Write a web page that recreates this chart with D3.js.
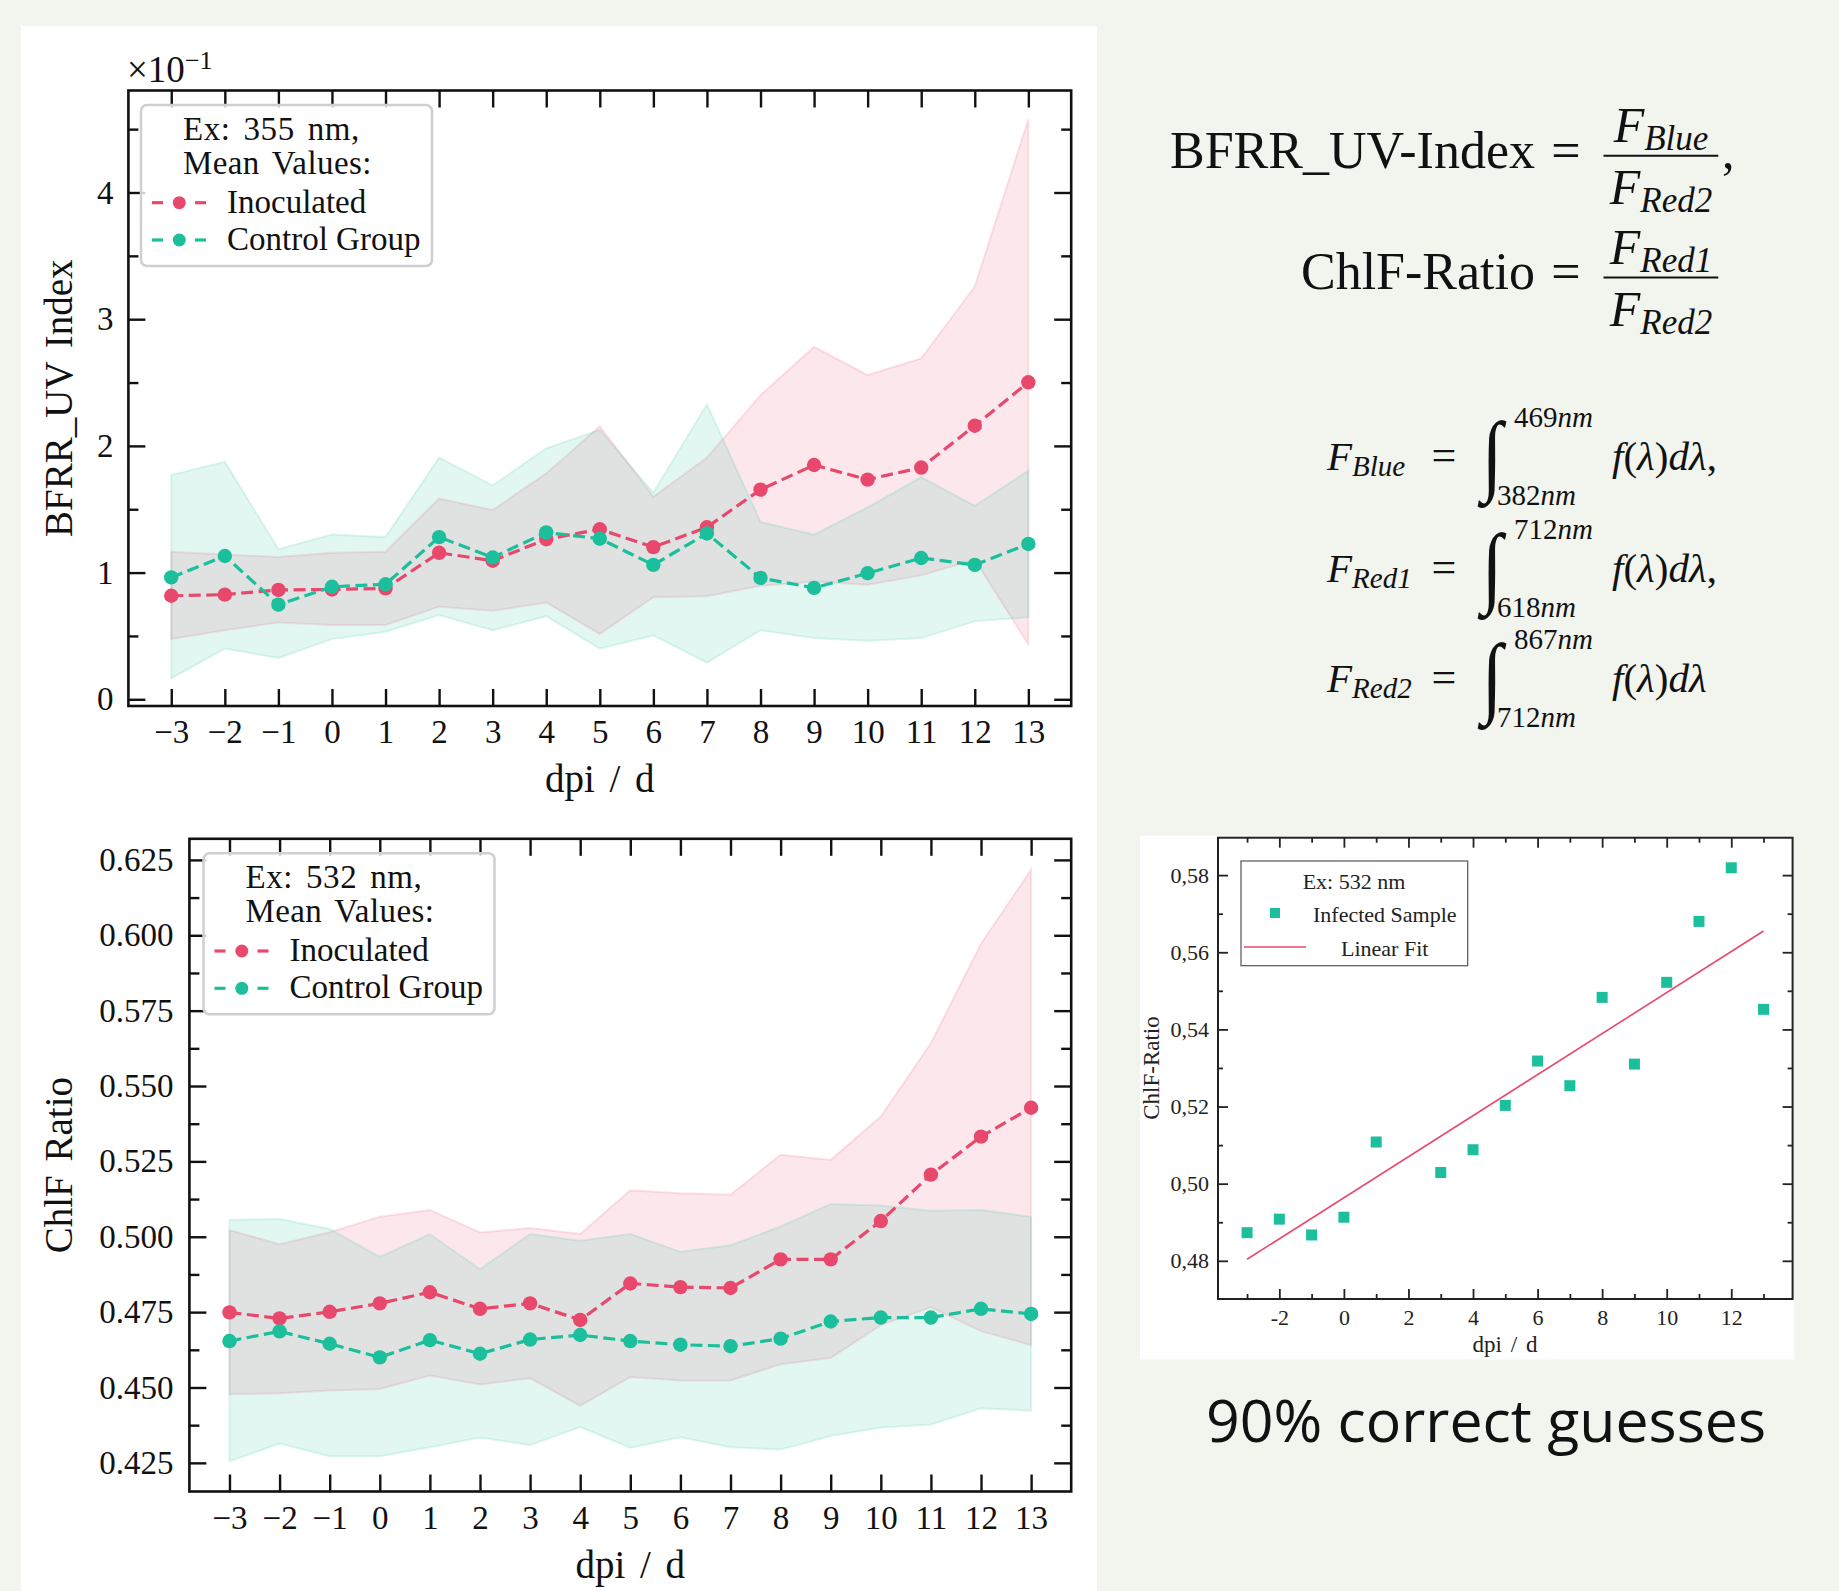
<!DOCTYPE html>
<html><head><meta charset="utf-8">
<script src="https://cdn.jsdelivr.net/npm/d3@7"></script>
<style>
html,body{margin:0;padding:0;background:#f2f4ee;}
svg{display:block;}
</style></head><body>
<svg id="fig" width="1839" height="1591"></svg>
<script>
// ---------------- DATA ----------------
const dpi = [-3,-2,-1,0,1,2,3,4,5,6,7,8,9,10,11,12,13];
const dpiTickLabels = ["\u22123","\u22122","\u22121","0","1","2","3","4","5","6","7","8","9","10","11","12","13"];

// BFRR_UV index (true values; axis shows ×10^-1)
const uvInocMean  = [0.0817,0.0826,0.0863,0.0867,0.0875,0.1156,0.1094,0.1263,0.1342,0.1201,0.1358,0.1655,0.1849,0.1734,0.1829,0.2159,0.2502];
const uvInocUpper = [0.1164,0.1143,0.1123,0.1156,0.1164,0.1585,0.1494,0.1783,0.2155,0.1598,0.1907,0.2400,0.2782,0.2559,0.2691,0.3257,0.4578];
const uvInocLower = [0.0475,0.0545,0.0607,0.0586,0.0586,0.0731,0.0698,0.0764,0.0516,0.0805,0.0813,0.0896,0.0929,0.0904,0.0978,0.1102,0.0433];
const uvCtrlMean  = [0.0962,0.1131,0.0747,0.0888,0.0908,0.1280,0.1119,0.1317,0.1267,0.1061,0.1309,0.0958,0.0879,0.0995,0.1115,0.1061,0.1226];
const uvCtrlUpper = [0.1771,0.1874,0.1185,0.1300,0.1280,0.1907,0.1688,0.1981,0.2126,0.1631,0.2328,0.1399,0.1300,0.1515,0.1754,0.1527,0.1804];
const uvCtrlLower = [0.0165,0.0400,0.0326,0.0475,0.0533,0.0665,0.0545,0.0656,0.0400,0.0504,0.0289,0.0545,0.0483,0.0462,0.0483,0.0615,0.0648];
const uvTicks = [0,0.1,0.2,0.3,0.4];
const uvTickLabels = ["0","1","2","3","4"];
const uvMinor = [0.05,0.15,0.25,0.35,0.45];

// ChlF ratio
const chlInocMean  = [0.4749,0.4729,0.4751,0.4779,0.4816,0.4761,0.4779,0.4724,0.4845,0.4833,0.4830,0.4925,0.4925,0.5052,0.5206,0.5332,0.5428];
const chlInocUpper = [0.5022,0.4975,0.5015,0.5066,0.5089,0.5014,0.5029,0.5009,0.5154,0.5144,0.5139,0.5272,0.5255,0.5399,0.5642,0.5972,0.6218];
const chlInocLower = [0.4478,0.4481,0.4490,0.4495,0.4540,0.4510,0.4531,0.4439,0.4535,0.4523,0.4523,0.4577,0.4598,0.4707,0.4766,0.4687,0.4640];
const chlCtrlMean  = [0.4654,0.4686,0.4645,0.4600,0.4657,0.4612,0.4659,0.4674,0.4654,0.4642,0.4637,0.4662,0.4719,0.4732,0.4732,0.4761,0.4744];
const chlCtrlUpper = [0.5056,0.5059,0.5026,0.4933,0.5009,0.4892,0.5009,0.4987,0.5009,0.4950,0.4972,0.5034,0.5109,0.5104,0.5086,0.5089,0.5066];
const chlCtrlLower = [0.4255,0.4314,0.4272,0.4272,0.4302,0.4334,0.4309,0.4369,0.4300,0.4335,0.4302,0.4294,0.4339,0.4367,0.4377,0.4431,0.4423];
const chlTicks = [0.425,0.45,0.475,0.5,0.525,0.55,0.575,0.6,0.625];
const chlTickLabels = ["0.425","0.450","0.475","0.500","0.525","0.550","0.575","0.600","0.625"];
const chlMinor = [0.4375,0.4625,0.4875,0.5125,0.5375,0.5625,0.5875,0.6125];

// Inset: infected sample, Ex 532 nm
const insetDays  = [-3,-2,-1,0,1,3,4,5,6,7,8,9,10,11,12,13];
const insetRatio = [0.4873,0.4908,0.4867,0.4913,0.5108,0.5029,0.5088,0.5203,0.5318,0.5254,0.5483,0.5310,0.5522,0.5680,0.5819,0.5452];
const fitDays  = [-3, 13];
const fitRatio = [0.4804, 0.5655];
const insetXTicks = [-2,0,2,4,6,8,10,12];
const insetXTickLabels = ["-2","0","2","4","6","8","10","12"];
const insetXMinor = [-3,-1,1,3,5,7,9,11,13];
const insetYTicks = [0.48,0.50,0.52,0.54,0.56,0.58];
const insetYTickLabels = ["0,48","0,50","0,52","0,54","0,56","0,58"];
const insetYMinor = [0.49,0.51,0.53,0.55,0.57];

// ---------------- DRAWING ----------------
const svg = d3.select("#fig");
const SERIF = "'Liberation Serif','Times New Roman',serif";
const RED = "#e8486b", TEAL = "#1cbf9b";
const BLACK = "#111";

svg.append("rect").attr("width",1839).attr("height",1591).attr("fill","#f2f4ee");
svg.append("rect").attr("x",21).attr("y",26).attr("width",1076).attr("height",1565).attr("fill","#ffffff");

function styleAxis(sel, fs){
  sel.attr("font-family",SERIF).attr("font-size",fs);
  sel.select(".domain").remove();
  sel.selectAll(".tick line").attr("stroke",BLACK).attr("stroke-width",2.4);
  sel.selectAll(".tick text").attr("fill",BLACK);
}

function drawPanel(p){
  const g = svg.append("g");
  const x = d3.scaleLinear().domain([-3.8,13.8]).range([p.left,p.right]);
  const y = d3.scaleLinear().domain(p.yDomain).range([p.bottom,p.top]);

  const area = d3.area().x(d=>x(d[0])).y0(d=>y(d[1])).y1(d=>y(d[2]));
  const line = d3.line().x(d=>x(d[0])).y(d=>y(d[1]));
  p.series.forEach(s=>{
    g.append("path").datum(d3.zip(dpi,s.lower,s.upper)).attr("d",area)
      .attr("fill",s.color).attr("fill-opacity",0.13)
      .attr("stroke",s.color).attr("stroke-opacity",0.14).attr("stroke-width",2);
  });
  p.series.forEach(s=>{
    g.append("path").datum(d3.zip(dpi,s.mean)).attr("d",line)
      .attr("fill","none").attr("stroke",s.color).attr("stroke-width",3.2)
      .attr("stroke-dasharray","12,5.5");
    g.selectAll(null).data(d3.zip(dpi,s.mean)).join("circle")
      .attr("cx",d=>x(d[0])).attr("cy",d=>y(d[1])).attr("r",7.2).attr("fill",s.color);
  });

  // axes
  g.append("g").attr("transform",`translate(0,${p.bottom})`)
    .call(d3.axisBottom(x).tickValues(dpi).tickFormat(d=>dpiTickLabels[dpi.indexOf(d)])
      .tickSizeInner(-17).tickSizeOuter(0).tickPadding(14)).call(styleAxis,33);
  g.append("g").attr("transform",`translate(0,${p.top})`)
    .call(d3.axisTop(x).tickValues(dpi).tickFormat("").tickSizeInner(-17).tickSizeOuter(0)).call(styleAxis,33);
  g.append("g").attr("transform",`translate(${p.left},0)`)
    .call(d3.axisLeft(y).tickValues(p.yTicks).tickFormat(d=>p.yLabels[p.yTicks.indexOf(d)])
      .tickSizeInner(-17).tickSizeOuter(0).tickPadding(p.yPad)).call(styleAxis,33);
  g.append("g").attr("transform",`translate(${p.left},0)`)
    .call(d3.axisLeft(y).tickValues(p.yMinor).tickFormat("").tickSizeInner(-10).tickSizeOuter(0)).call(styleAxis,33);
  g.append("g").attr("transform",`translate(${p.right},0)`)
    .call(d3.axisRight(y).tickValues(p.yTicks).tickFormat("").tickSizeInner(-17).tickSizeOuter(0)).call(styleAxis,33);
  g.append("g").attr("transform",`translate(${p.right},0)`)
    .call(d3.axisRight(y).tickValues(p.yMinor).tickFormat("").tickSizeInner(-10).tickSizeOuter(0)).call(styleAxis,33);

  g.append("rect").attr("x",p.left).attr("y",p.top).attr("width",p.right-p.left).attr("height",p.bottom-p.top)
    .attr("fill","none").attr("stroke",BLACK).attr("stroke-width",2.6);

  // axis labels
  g.append("text").attr("x",(p.left+p.right)/2).attr("y",p.bottom+86).attr("text-anchor","middle")
    .attr("font-family",SERIF).attr("font-size",39).attr("word-spacing",5).attr("fill",BLACK).text("dpi / d");
  g.append("text").attr("transform",`translate(72,${(p.top+p.bottom)/2}) rotate(-90)`).attr("text-anchor","middle")
    .attr("font-family",SERIF).attr("font-size",39).attr("word-spacing",4).attr("fill",BLACK).text(p.ylabel);

  // legend
  const lx = p.legX, ly = p.top+14.5;
  const lg = g.append("g").attr("font-family",SERIF).attr("font-size",33).attr("fill",BLACK);
  lg.append("rect").attr("x",lx).attr("y",ly).attr("width",291).attr("height",161).attr("rx",6)
    .attr("fill","#fff").attr("fill-opacity",0.8).attr("stroke","#cfcfcf").attr("stroke-width",2.5);
  lg.append("text").attr("x",lx+42).attr("y",ly+35).attr("word-spacing",4).attr("letter-spacing",0.6).text(p.legTitle1);
  lg.append("text").attr("x",lx+42).attr("y",ly+68.5).attr("word-spacing",4).attr("letter-spacing",0.4).text(p.legTitle2);
  p.series.forEach((s,k)=>{
    const by = ly+107.7+k*37.3;
    const cy = by-10;
    lg.append("line").attr("x1",lx+11).attr("x2",lx+22).attr("y1",cy).attr("y2",cy).attr("stroke",s.color).attr("stroke-width",3.2);
    lg.append("line").attr("x1",lx+54).attr("x2",lx+65).attr("y1",cy).attr("y2",cy).attr("stroke",s.color).attr("stroke-width",3.2);
    lg.append("circle").attr("cx",lx+38.3).attr("cy",cy).attr("r",6.5).attr("fill",s.color);
    lg.append("text").attr("x",lx+86).attr("y",by).text(s.name);
  });
  return {x,y,g};
}

const topPanel = drawPanel({
  left:128.4,right:1071.2,top:90.5,bottom:706,
  yDomain:[-0.0053,0.4805], yTicks:uvTicks, yLabels:uvTickLabels, yMinor:uvMinor, yPad:15,
  ylabel:"BFRR_UV Index", legX:141, legTitle1:"Ex: 355 nm,", legTitle2:"Mean Values:",
  series:[
    {name:"Inoculated",color:RED,mean:uvInocMean,lower:uvInocLower,upper:uvInocUpper},
    {name:"Control Group",color:TEAL,mean:uvCtrlMean,lower:uvCtrlLower,upper:uvCtrlUpper}
  ]
});
// offset text ×10^-1
svg.append("text").attr("x",127).attr("y",82).attr("font-family",SERIF).attr("font-size",37).attr("fill",BLACK)
  .text("\u00d710").append("tspan").attr("font-size",26).attr("dy",-13).text("\u22121");

const bottomPanel = drawPanel({
  left:189.4,right:1071.2,top:838.8,bottom:1491.5,
  yDomain:[0.4155,0.632], yTicks:chlTicks, yLabels:chlTickLabels, yMinor:chlMinor, yPad:16,
  ylabel:"ChlF Ratio", legX:203.5, legTitle1:"Ex: 532 nm,", legTitle2:"Mean Values:",
  series:[
    {name:"Inoculated",color:RED,mean:chlInocMean,lower:chlInocLower,upper:chlInocUpper},
    {name:"Control Group",color:TEAL,mean:chlCtrlMean,lower:chlCtrlLower,upper:chlCtrlUpper}
  ]
});

// ---------------- INSET ----------------
(function(){
  const L=1218,R=1792.6,T=837.7,B=1299;
  svg.append("rect").attr("x",1140).attr("y",835.6).attr("width",654).attr("height",524).attr("fill","#fff");
  const g = svg.append("g");
  const x = d3.scaleLinear().domain([-3.9,13.9]).range([L,R]);
  const y = d3.scaleLinear().domain([0.4701,0.5897]).range([B,T]);
  const fs = 22;
  const sty = (sel)=>{ sel.attr("font-family",SERIF).attr("font-size",fs); sel.select(".domain").remove();
    sel.selectAll(".tick line").attr("stroke","#222").attr("stroke-width",1.8); sel.selectAll(".tick text").attr("fill","#222"); };
  g.append("g").attr("transform",`translate(0,${B})`).call(d3.axisBottom(x).tickValues(insetXTicks)
    .tickFormat(d=>insetXTickLabels[insetXTicks.indexOf(d)]).tickSizeInner(-10).tickSizeOuter(0).tickPadding(10)).call(sty);
  g.append("g").attr("transform",`translate(0,${B})`).call(d3.axisBottom(x).tickValues(insetXMinor).tickFormat("").tickSizeInner(-5).tickSizeOuter(0)).call(sty);
  g.append("g").attr("transform",`translate(0,${T})`).call(d3.axisTop(x).tickValues(insetXTicks).tickFormat("").tickSizeInner(-10).tickSizeOuter(0)).call(sty);
  g.append("g").attr("transform",`translate(0,${T})`).call(d3.axisTop(x).tickValues(insetXMinor).tickFormat("").tickSizeInner(-5).tickSizeOuter(0)).call(sty);
  g.append("g").attr("transform",`translate(${L},0)`).call(d3.axisLeft(y).tickValues(insetYTicks)
    .tickFormat(d=>insetYTickLabels[insetYTicks.indexOf(d)]).tickSizeInner(-10).tickSizeOuter(0).tickPadding(9)).call(sty);
  g.append("g").attr("transform",`translate(${L},0)`).call(d3.axisLeft(y).tickValues(insetYMinor).tickFormat("").tickSizeInner(-5).tickSizeOuter(0)).call(sty);
  g.append("g").attr("transform",`translate(${R},0)`).call(d3.axisRight(y).tickValues(insetYTicks).tickFormat("").tickSizeInner(-10).tickSizeOuter(0)).call(sty);
  g.append("g").attr("transform",`translate(${R},0)`).call(d3.axisRight(y).tickValues(insetYMinor).tickFormat("").tickSizeInner(-5).tickSizeOuter(0)).call(sty);
  g.append("rect").attr("x",L).attr("y",T).attr("width",R-L).attr("height",B-T).attr("fill","none").attr("stroke","#222").attr("stroke-width",2);

  g.append("path").datum(d3.zip(fitDays,fitRatio)).attr("d",d3.line().x(d=>x(d[0])).y(d=>y(d[1])))
    .attr("stroke",RED).attr("stroke-width",1.6).attr("fill","none");
  g.selectAll(null).data(d3.zip(insetDays,insetRatio)).join("rect")
    .attr("x",d=>x(d[0])-5.5).attr("y",d=>y(d[1])-5.5).attr("width",11).attr("height",11).attr("fill",TEAL);

  // legend
  const lg = g.append("g").attr("font-family",SERIF).attr("font-size",fs).attr("fill","#222");
  lg.append("rect").attr("x",1241).attr("y",861).attr("width",226.7).attr("height",104.7).attr("fill","#fff").attr("stroke","#555").attr("stroke-width",1.2);
  lg.append("text").attr("x",1354).attr("y",889).attr("text-anchor","middle").text("Ex: 532 nm");
  lg.append("rect").attr("x",1270).attr("y",908).attr("width",10).attr("height",10).attr("fill",TEAL);
  lg.append("text").attr("x",1313).attr("y",922).text("Infected Sample");
  lg.append("line").attr("x1",1244).attr("x2",1306).attr("y1",947).attr("y2",947).attr("stroke",RED).attr("stroke-width",1.6);
  lg.append("text").attr("x",1341).attr("y",956).text("Linear Fit");

  g.append("text").attr("transform","translate(1159,1068) rotate(-90)").attr("text-anchor","middle")
    .attr("font-family",SERIF).attr("font-size",23).attr("fill","#222").text("ChlF-Ratio");
  g.append("text").attr("x",1505).attr("y",1352).attr("text-anchor","middle").attr("word-spacing",3)
    .attr("font-family",SERIF).attr("font-size",23).attr("fill","#222").text("dpi / d");
})();

// ---------------- FORMULAS ----------------
const F = svg.append("g").attr("font-family",SERIF).attr("fill","#111");
function mathText(x,y,anchor,parts){
  const t = F.append("text").attr("x",x).attr("y",y).attr("text-anchor",anchor);
  parts.forEach(p=>{
    const s = t.append("tspan").text(p.t).attr("font-size",p.fs);
    if(p.it) s.attr("font-style","italic");
    if(p.dy) s.attr("dy",p.dy);
  });
  return t;
}
// Row A / B
mathText(1535,168,"end",[{t:"BFRR_UV-Index",fs:52}]);
mathText(1566,168,"middle",[{t:"=",fs:52}]);
F.append("line").attr("x1",1603.5).attr("x2",1718.3).attr("y1",155.7).attr("y2",155.7).attr("stroke","#111").attr("stroke-width",2);
mathText(1661,141.7,"middle",[{t:"F",fs:50,it:1},{t:"Blue",fs:35,it:1,dy:8}]);
mathText(1661,204,"middle",[{t:"F",fs:50,it:1},{t:"Red2",fs:35,it:1,dy:8}]);
mathText(1722,168,"start",[{t:",",fs:50}]);

mathText(1535,289,"end",[{t:"ChlF-Ratio",fs:52}]);
mathText(1566,289,"middle",[{t:"=",fs:52}]);
F.append("line").attr("x1",1603.5).attr("x2",1718.3).attr("y1",277.6).attr("y2",277.6).attr("stroke","#111").attr("stroke-width",2);
mathText(1661,263.7,"middle",[{t:"F",fs:50,it:1},{t:"Red1",fs:35,it:1,dy:8}]);
mathText(1661,326,"middle",[{t:"F",fs:50,it:1},{t:"Red2",fs:35,it:1,dy:8}]);

// Integrals
const intRows = [
  {b:470, sub:"Blue", up:"469", lo:"382", end:","},
  {b:582, sub:"Red1", up:"712", lo:"618", end:","},
  {b:692, sub:"Red2", up:"867", lo:"712", end:""}
];
intRows.forEach(r=>{
  mathText(1327,r.b,"start",[{t:"F",fs:41,it:1},{t:r.sub,fs:29,it:1,dy:6}]);
  mathText(1444,r.b,"middle",[{t:"=",fs:44}]);
  F.append("text").attr("transform",`translate(1492,${r.b+14}) scale(1,1.18)`).attr("text-anchor","middle")
    .attr("font-family",SERIF).attr("font-style","italic").attr("font-size",76).text("\u222b");
  mathText(1514,r.b-43,"start",[{t:r.up,fs:29},{t:"nm",fs:29,it:1}]);
  mathText(1497,r.b+35,"start",[{t:r.lo,fs:29},{t:"nm",fs:29,it:1}]);
  mathText(1612,r.b,"start",[{t:"f",fs:41,it:1},{t:"(",fs:41},{t:"\u03bb",fs:41,it:1},{t:")",fs:41},{t:"d\u03bb",fs:41,it:1},{t:r.end,fs:41}]);
});

// caption
svg.append("text").attr("x",1486).attr("y",1442).attr("text-anchor","middle")
  .attr("font-family","'Open Sans','Noto Sans',sans-serif").attr("font-size",59).attr("fill","#111")
  .text("90% correct guesses");
</script>
</body></html>
